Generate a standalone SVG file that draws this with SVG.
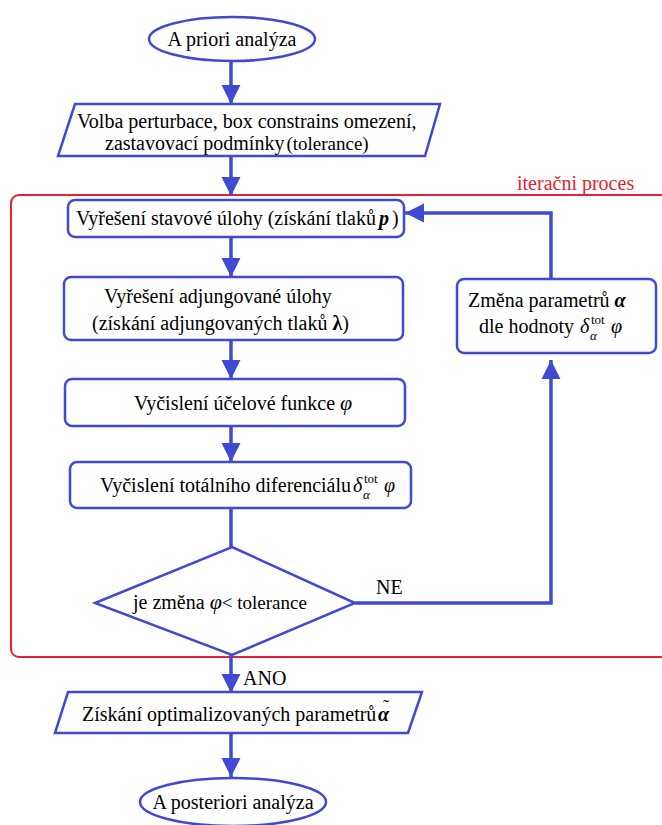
<svg xmlns="http://www.w3.org/2000/svg" width="662" height="825" viewBox="0 0 662 825">
<defs>
<marker id="ah" viewBox="0 0 10 10" refX="10" refY="5" markerWidth="5.5" markerHeight="5.5" orient="auto" markerUnits="strokeWidth">
<path d="M0,0 L10,5 L0,10 z" fill="#4049d4"/>
</marker>
<style>
.n{fill:#fff;stroke:#4049d4;stroke-width:2.5}
.c{fill:none;stroke:#4049d4;stroke-width:3.5}
text{font-size:20px;fill:#000}
.s{font-size:13px}
.m{font-style:italic}
</style>
</defs>
<g font-family="'Liberation Serif', 'DejaVu Serif', serif">
<rect x="11" y="195" width="680" height="462" rx="8" fill="none" stroke="#e8222e" stroke-width="2"/>
<text x="517" y="190" style="fill:#e8222e">iteračni proces</text>
<g id="connectors">
<path class="c" d="M231,62 V104" marker-end="url(#ah)"/>
<path class="c" d="M231,157 V196" marker-end="url(#ah)"/>
<path class="c" d="M231,237 V277" marker-end="url(#ah)"/>
<path class="c" d="M231,340 V379" marker-end="url(#ah)"/>
<path class="c" d="M231,426 V462" marker-end="url(#ah)"/>
<path class="c" d="M231,508 V547"/>
<path class="c" d="M355,603 H551 V360" marker-end="url(#ah)"/>
<path class="c" d="M551,279 V213 H405" marker-end="url(#ah)"/>
<path class="c" d="M231,655 V693" marker-end="url(#ah)"/>
<path class="c" d="M231,733 V777" marker-end="url(#ah)"/>
<text x="376" y="594">NE</text>
<text x="243" y="685">ANO</text>
</g>
<g id="start">
<ellipse class="n" cx="232" cy="39" rx="83" ry="22"/>
<text x="232" y="46" text-anchor="middle">A priori analýza</text>
</g>
<g id="input">
<polygon class="n" points="75,104 440,104 425,156 58,156"/>
<text x="77" y="128">Volba perturbace, box constrains omezení,</text>
<text x="105" y="150">zastavovací podmínky<tspan dx="2" style="font-size:19px">(tolerance)</tspan></text>
</g>
<g id="state">
<rect class="n" x="68" y="200" width="336" height="37" rx="7"/>
<text x="76" y="225">Vyřešení stavové úlohy (získání tlaků<tspan class="m" font-weight="bold" dx="3">p</tspan><tspan dx="3">)</tspan></text>
</g>
<g id="adjoint">
<rect class="n" x="64" y="277" width="339" height="63" rx="7"/>
<text x="104" y="303">Vyřešení adjungované úlohy</text>
<text x="92" y="330">(získání adjungovaných tlaků <tspan font-weight="bold">λ</tspan>)</text>
</g>
<g id="objective">
<rect class="n" x="65" y="379" width="340" height="47" rx="7"/>
<text x="134" y="410">Vyčislení účelové funkce <tspan class="m" style="font-size:22px">φ</tspan></text>
</g>
<g id="differential">
<rect class="n" x="70" y="462" width="341" height="46" rx="7"/>
<text x="100" y="492">Vyčislení totálního diferenciálu</text>
<text x="353" y="492" class="m">δ</text>
<text x="364" y="483" class="s">tot</text>
<text x="363" y="499" class="s m">α</text>
<text x="384" y="492" class="m">φ</text>
</g>
<g id="update">
<rect class="n" x="457" y="279" width="199" height="74" rx="7"/>
<text x="468" y="307">Změna parametrů <tspan class="m" font-weight="bold">α</tspan></text>
<text x="479" y="333">dle hodnoty</text>
<text x="580" y="333" class="m">δ</text>
<text x="591" y="324" class="s">tot</text>
<text x="590" y="340" class="s m">α</text>
<text x="611" y="333" class="m">φ</text>
</g>
<g id="decision">
<polygon class="n" points="232,547 355,603 232,655 95,603"/>
<text x="133" y="609">je změna <tspan class="m" style="font-size:22px">φ</tspan><tspan style="font-size:19px">&lt; tolerance</tspan></text>
</g>
<g id="result">
<polygon class="n" points="68,692 422,692 408,733 55,733"/>
<text x="82" y="721">Získání optimalizovaných parametrů</text>
<text x="378" y="721" class="m" font-weight="bold">α</text>
<text x="386" y="713" text-anchor="middle" style="font-size:18px">˜</text>
</g>
<g id="end">
<ellipse class="n" cx="233" cy="802" rx="93" ry="24"/>
<text x="233" y="809" text-anchor="middle">A posteriori analýza</text>
</g>
</g>
</svg>
